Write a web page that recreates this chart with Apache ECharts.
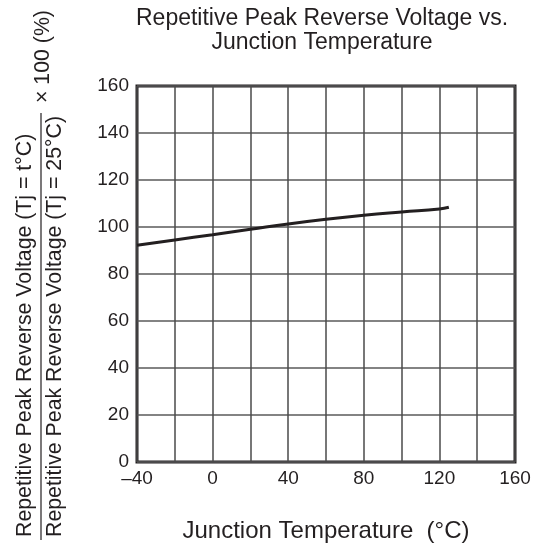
<!DOCTYPE html>
<html>
<head>
<meta charset="utf-8">
<script src="https://cdn.jsdelivr.net/npm/echarts@6/dist/echarts.min.js"></script>
<style>
html,body{margin:0;padding:0;background:#fff;}
#chart{width:539px;height:548px;}
</style>
</head>
<body>
<div id="chart"></div>
<script>
var temperatures = [-40, -20, 0, 20, 40, 60, 80, 100, 120, 125];
var voltageRatio = [92.2, 94.5, 96.7, 99.0, 101.3, 103.3, 105.0, 106.4, 107.7, 108.4];
var xTickLabels = [-40, 0, 40, 80, 120, 160];
var yTickLabels = [0, 20, 40, 60, 80, 100, 120, 140, 160];
var titleLines = ['Repetitive Peak Reverse Voltage vs.', 'Junction Temperature'];
var xName = 'Junction Temperature  (\u00B0C)';
var yNumerator = 'Repetitive Peak Reverse Voltage (Tj = t\u00B0C)';
var yDenominator = 'Repetitive Peak Reverse Voltage (Tj = 25\u00B0C)';
var yFactor = '\u00D7 100 (%)';

var FONT = "'Liberation Sans', Arial, Helvetica, sans-serif";
var INK = '#231f20';

var chart = echarts.init(document.getElementById('chart'), null, {renderer: 'canvas'});
var data = temperatures.map(function (t, i) { return [t, voltageRatio[i]]; });

function fmtX(v) {
  if (xTickLabels.indexOf(v) < 0) return '';
  return v < 0 ? '\u2013' + Math.abs(v) : String(v);
}
function fmtY(v) {
  return yTickLabels.indexOf(v) < 0 ? '' : String(v);
}

chart.setOption({
  animation: false,
  backgroundColor: '#fff',
  title: {
    text: titleLines.join('\n'),
    left: 317,
    top: 2,
    textAlign: 'center',
    textStyle: {fontFamily: FONT, fontSize: 23, fontWeight: 'normal', color: INK, lineHeight: 24}
  },
  grid: {
    left: 137, right: 24, top: 86, bottom: 86,
    show: true, borderColor: INK, borderWidth: 3, backgroundColor: 'transparent'
  },
  xAxis: {
    type: 'value', min: -40, max: 160, interval: 20,
    name: xName, nameLocation: 'middle', nameGap: 57,
    nameTextStyle: {fontFamily: FONT, fontSize: 24, color: INK},
    axisLine: {show: false},
    axisTick: {show: false},
    axisLabel: {fontFamily: FONT, fontSize: 19, color: INK, margin: 7, formatter: fmtX, showMinLabel: true, showMaxLabel: true},
    splitLine: {show: true, lineStyle: {color: '#4a4a4a', width: 1.5}}
  },
  yAxis: {
    type: 'value', min: 0, max: 160, interval: 20,
    axisLine: {show: false},
    axisTick: {show: false},
    axisLabel: {fontFamily: FONT, fontSize: 19, color: INK, margin: 8, formatter: fmtY},
    splitLine: {show: true, lineStyle: {color: '#5a5a5a', width: 1.5}}
  },
  series: [{
    type: 'line',
    data: data,
    smooth: true,
    symbol: 'none',
    lineStyle: {color: INK, width: 3},
    z: 5
  }],
  graphic: [
    {type: 'text', x: 25, y: 537, rotation: Math.PI / 2,
     style: {text: yNumerator, font: '21.3px ' + FONT, fill: INK, align: 'left', verticalAlign: 'middle'}},
    {type: 'text', x: 55, y: 537, rotation: Math.PI / 2,
     style: {text: yDenominator, font: '21.3px ' + FONT, fill: INK, align: 'left', verticalAlign: 'middle'}},
    {type: 'line', shape: {x1: 41, y1: 540, x2: 41, y2: 113}, style: {stroke: INK, lineWidth: 1.2}},
    {type: 'text', x: 43, y: 103, rotation: Math.PI / 2,
     style: {text: yFactor, font: '21.3px ' + FONT, fill: INK, align: 'left', verticalAlign: 'middle'}}
  ]
});
</script>
</body>
</html>
